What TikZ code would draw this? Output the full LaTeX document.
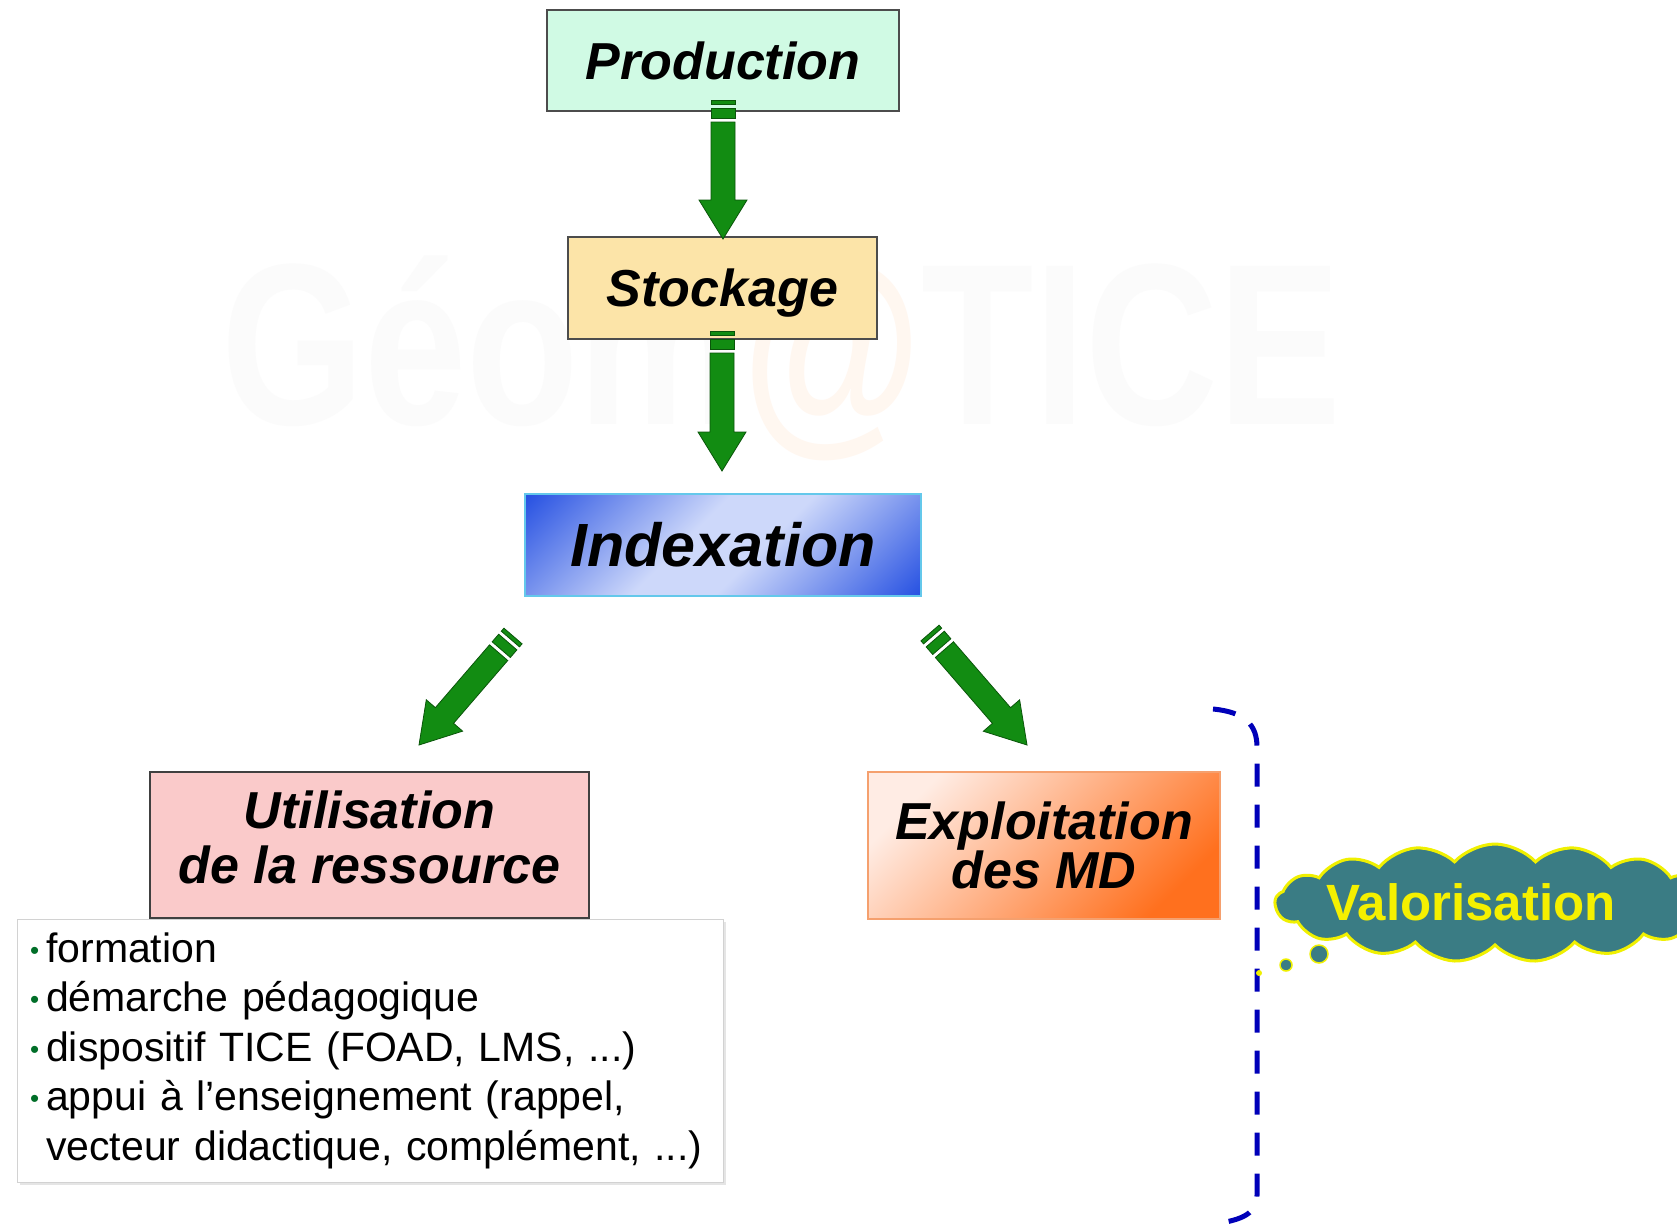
\documentclass[tikz,border=0pt]{standalone}
\usepackage{fontspec}
\setmainfont{Liberation Sans}
\usetikzlibrary{shapes.symbols,shadows}
\definecolor{prodfill}{RGB}{208,250,228}
\definecolor{stockfill}{RGB}{252,228,168}
\definecolor{utilfill}{RGB}{250,202,202}
\definecolor{agreen}{RGB}{18,140,18}
\definecolor{agreendark}{RGB}{10,85,10}
\definecolor{idxdark}{RGB}{40,82,226}
\definecolor{idxlight}{RGB}{205,216,250}
\definecolor{idxborder}{RGB}{100,200,235}
\definecolor{exlight}{RGB}{255,236,228}
\definecolor{exdark}{RGB}{255,112,30}
\definecolor{exborder}{RGB}{245,160,110}
\definecolor{brblue}{RGB}{0,0,185}
\definecolor{cloudfill}{RGB}{58,124,132}
\definecolor{cloudline}{RGB}{240,240,0}
\definecolor{valyellow}{RGB}{245,240,0}
\definecolor{bulletgreen}{RGB}{0,110,40}
\pgfdeclareverticalshading{idxshade}{100bp}{color(0bp)=(idxdark); color(15bp)=(idxdark); color(44bp)=(idxlight); color(56bp)=(idxlight); color(85bp)=(idxdark); color(100bp)=(idxdark)}
\makeatletter
\newcommand\garrow[2]{%
  \pgfmathanglebetweenpoints{\pgfpointanchor{#1}{center}}{\pgfpointanchor{#2}{center}}%
  \edef\garang{\pgfmathresult}%
  \pgfpointdiff{\pgfpointanchor{#1}{center}}{\pgfpointanchor{#2}{center}}%
  \pgfgetlastxy{\garx}{\gary}%
  \pgfmathveclen{\garx}{\gary}%
  \edef\garlen{\pgfmathresult}%
  \begin{scope}[shift={(#1)},rotate=\garang]
    \filldraw[garrowstyle] (0,-12) rectangle (4,12);
    \filldraw[garrowstyle] (8,-12) rectangle (18,12);
    \filldraw[garrowstyle] (22,-12) -- (\garlen-39,-12) -- (\garlen-39,-24) -- (\garlen,0)
      -- (\garlen-39,24) -- (\garlen-39,12) -- (22,12) -- cycle;
  \end{scope}}
\makeatother
\newcommand\bul{\makebox[16pt][l]{\color{bulletgreen}\fontsize{26}{26}\selectfont\raisebox{3pt}{•}}}
\tikzset{
  garrowstyle/.style={fill=agreen, draw=agreendark, line width=0.8pt, line join=miter},
  titlebox/.style={draw, line width=1.2pt, inner sep=0pt, align=center,
    font=\fontsize{52}{51}\selectfont\bfseries\itshape},
}
\begin{document}
\begin{tikzpicture}[x=1pt,y=-1pt]
\useasboundingbox (0,0) rectangle (1677,1227);
\clip (0,0) rectangle (1677,1227);
\fill[white] (0,0) rectangle (1677,1227);
% watermark
\node[font=\fontsize{230}{230}\selectfont\bfseries, text=gray!3, xscale=0.8] (wm) at (781,358) {Géom{\color{orange!6}@}TICE};
% boxes
\node[titlebox, draw=black!70, fill=prodfill, minimum width=352, minimum height=101] (prod) at (723,60.5) {Production};
\node[titlebox, draw=black!70, fill=stockfill, minimum width=309, minimum height=102, text height=42pt, text depth=6pt] (stock) at (722.5,288) {Stockage};
\node[titlebox, draw=idxborder, shading=idxshade, shading angle=45,
      minimum width=396, minimum height=102, font=\fontsize{61}{61}\selectfont\bfseries\itshape] (index) at (723,545) {Indexation};
\node[titlebox, draw=black!75, fill=utilfill, minimum width=439, minimum height=146] (util) at (369.5,845)
  {\raisebox{3pt}{\begin{tabular}{@{}c@{}}Utilisation\\[2pt]de la ressource\end{tabular}}};
\node[titlebox, draw=exborder, shading=axis, top color=exlight, bottom color=exdark, shading angle=45,
      minimum width=352, minimum height=147, font=\fontsize{52}{46}\selectfont\bfseries\itshape] (explo) at (1044,845.5) {Exploitation\\des MD};
% arrows
\coordinate (t1) at (723,100);  \coordinate (h1) at (723,239);
\coordinate (t2) at (722,331);  \coordinate (h2) at (722,471);
\coordinate (t3) at (513,636);  \coordinate (h3) at (419,745);
\coordinate (t4) at (930,633);  \coordinate (h4) at (1027,745);
\garrow{t1}{h1}
\garrow{t2}{h2}
\garrow{t3}{h3}
\garrow{t4}{h4}
% list box
\node[draw=gray!35, fill=white, drop shadow={opacity=0.2, shadow xshift=3pt, shadow yshift=-3pt},
      anchor=north west, minimum width=705, minimum height=263, text width=680, inner xsep=13pt,
      align=left, font=\fontsize{41}{49.5}\selectfont] (list) at (17,919)
  {\rule{0pt}{8pt}\bul formation\\
   \bul démarche pédagogique\\
   \bul dispositif TICE (FOAD, LMS, ...)\\
   \bul appui à l’enseignement (rappel,\\
   \hspace*{16pt}vecteur didactique, complément, ...)};
% bracket
\draw[brblue, line width=5pt, dash pattern=on 23pt off 18pt]
  (1213,709) .. controls (1245,712) and (1257,725) .. (1257,747) -- (1257,1195)
  .. controls (1257,1212) and (1245,1220) .. (1213,1224);
% cloud
\node[cloud, cloud puffs=17, cloud puff arc=95, aspect=3.8, draw=cloudline, line width=3pt, fill=cloudfill,
      minimum width=440, minimum height=118] (cloud) at (1495,903) {};
\fill[cloudline] (1259,973) circle (3pt);
\filldraw[fill=cloudfill, draw=cloudline, line width=1.5pt] (1286,965) circle (6pt);
\filldraw[fill=cloudfill, draw=cloudline, line width=1.5pt] (1319,954) circle (9pt);
\node[font=\fontsize{51}{51}\selectfont\bfseries, text=valyellow, inner sep=0pt] (valor) at (1471,902) {Valorisation};
\end{tikzpicture}
\end{document}
